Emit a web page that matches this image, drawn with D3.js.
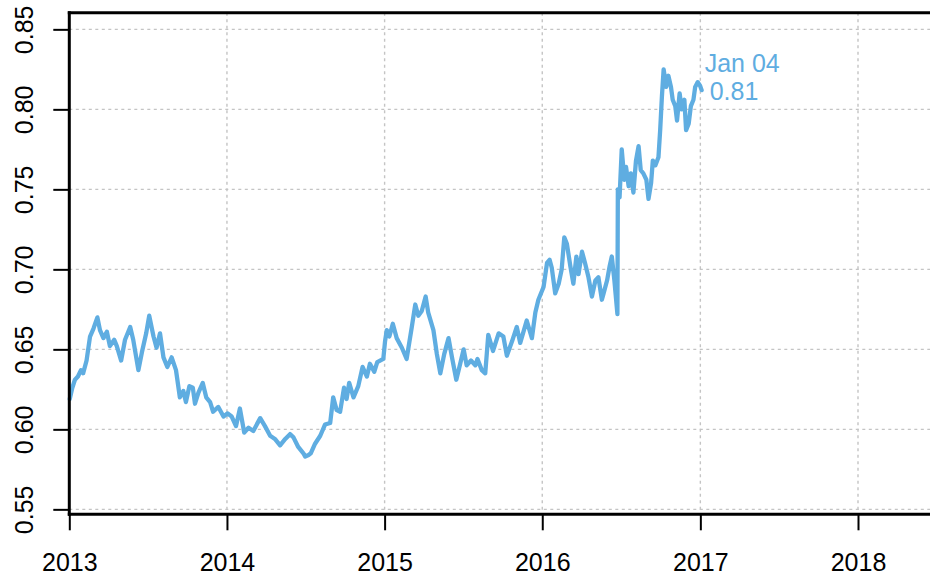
<!DOCTYPE html>
<html>
<head>
<meta charset="utf-8">
<script src="https://cdn.jsdelivr.net/npm/d3@7"></script>
<style>
  html, body { margin: 0; padding: 0; background: #fff; }
  svg { display: block; font-family: "Liberation Sans", Arial, Helvetica, sans-serif; }
</style>
</head>
<body>
<svg id="chart" width="930" height="579"></svg>
<script>
// USD/GBP exchange rate, 2013 through early 2017
const dates = [
  "2013-01-02","2013-01-08","2013-01-14","2013-01-21","2013-01-28","2013-02-02","2013-02-10","2013-02-18",
  "2013-02-26","2013-03-07","2013-03-13","2013-03-21","2013-03-29","2013-04-05","2013-04-15","2013-04-21",
  "2013-05-01","2013-05-10","2013-05-22","2013-05-29","2013-06-10","2013-06-18","2013-06-28","2013-07-05",
  "2013-07-15","2013-07-22","2013-07-30","2013-08-07","2013-08-16","2013-08-26","2013-09-05","2013-09-14",
  "2013-09-22","2013-09-28","2013-10-06","2013-10-14","2013-10-19","2013-10-27","2013-11-06","2013-11-14",
  "2013-11-23","2013-11-30","2013-12-12","2013-12-24","2014-01-02","2014-01-12","2014-01-22","2014-01-31",
  "2014-02-10","2014-02-20","2014-03-03","2014-03-19","2014-03-30","2014-04-11","2014-04-22","2014-05-04",
  "2014-05-16","2014-05-27","2014-06-04","2014-06-15","2014-06-27","2014-07-01","2014-07-09","2014-07-14",
  "2014-07-24","2014-08-05","2014-08-16","2014-08-28","2014-09-04","2014-09-12","2014-09-20","2014-09-29",
  "2014-10-05","2014-10-11","2014-10-21","2014-11-01","2014-11-11","2014-11-21","2014-11-28","2014-12-08",
  "2014-12-15","2014-12-29","2015-01-02","2015-01-06","2015-01-12","2015-01-20","2015-01-29","2015-02-10",
  "2015-02-21","2015-03-05","2015-03-13","2015-03-20","2015-03-28","2015-04-06","2015-04-12","2015-04-24",
  "2015-05-02","2015-05-10","2015-05-19","2015-05-29","2015-06-06","2015-06-16","2015-06-25","2015-07-03",
  "2015-07-10","2015-07-20","2015-07-30","2015-08-04","2015-08-14","2015-08-22","2015-08-29","2015-09-09",
  "2015-09-22","2015-10-03","2015-10-11","2015-10-23","2015-11-03","2015-11-11","2015-11-26","2015-12-08",
  "2015-12-16","2015-12-23","2016-01-04","2016-01-12","2016-01-18","2016-01-23","2016-01-31","2016-02-08",
  "2016-02-15","2016-02-21","2016-02-27","2016-03-06","2016-03-13","2016-03-20","2016-03-25","2016-04-02",
  "2016-04-09","2016-04-17","2016-04-25","2016-05-03","2016-05-10","2016-05-18","2016-05-22","2016-05-30",
  "2016-06-05","2016-06-10","2016-06-16","2016-06-23","2016-06-24","2016-06-28","2016-07-03","2016-07-09",
  "2016-07-13","2016-07-19","2016-07-24","2016-07-30","2016-08-05","2016-08-11","2016-08-16","2016-08-22",
  "2016-08-29","2016-09-03","2016-09-09","2016-09-13","2016-09-19","2016-09-26","2016-09-30","2016-10-04",
  "2016-10-08","2016-10-14","2016-10-19","2016-10-25","2016-10-29","2016-11-04","2016-11-08","2016-11-14",
  "2016-11-19","2016-11-25","2016-11-29","2016-12-05","2016-12-10","2016-12-16","2016-12-20","2016-12-26",
  "2016-12-31","2017-01-04"
];

const rates = [
  0.619,0.626,0.631,0.633,0.637,0.635,0.643,0.658,
  0.663,0.670,0.662,0.657,0.661,0.652,0.656,0.652,
  0.643,0.656,0.664,0.656,0.637,0.648,0.660,0.671,
  0.658,0.651,0.660,0.645,0.639,0.645,0.637,0.620,
  0.624,0.617,0.627,0.626,0.616,0.623,0.629,0.620,
  0.617,0.611,0.614,0.608,0.610,0.608,0.602,0.613,
  0.598,0.601,0.599,0.607,0.602,0.596,0.594,0.590,
  0.594,0.597,0.595,0.589,0.585,0.583,0.584,0.585,
  0.591,0.596,0.603,0.604,0.620,0.612,0.611,0.626,
  0.619,0.629,0.620,0.627,0.639,0.633,0.641,0.636,
  0.642,0.644,0.655,0.662,0.658,0.666,0.657,0.651,
  0.644,0.664,0.678,0.671,0.674,0.683,0.673,0.662,
  0.647,0.635,0.647,0.657,0.645,0.631,0.641,0.650,
  0.640,0.643,0.640,0.644,0.637,0.635,0.659,0.649,
  0.660,0.658,0.646,0.655,0.664,0.654,0.668,0.657,
  0.673,0.681,0.689,0.704,0.706,0.701,0.685,0.691,
  0.700,0.720,0.716,0.702,0.691,0.708,0.697,0.711,
  0.704,0.695,0.683,0.693,0.695,0.681,0.685,0.693,
  0.702,0.708,0.693,0.672,0.750,0.745,0.775,0.756,
  0.764,0.752,0.760,0.748,0.768,0.777,0.762,0.760,
  0.756,0.744,0.754,0.768,0.765,0.770,0.787,0.808,
  0.825,0.814,0.821,0.814,0.806,0.802,0.793,0.810,
  0.800,0.806,0.787,0.791,0.802,0.806,0.814,0.817,
  0.815,0.812
];

const yTicks = [0.55, 0.60, 0.65, 0.70, 0.75, 0.80, 0.85];
const yTickLabels = ["0.55", "0.60", "0.65", "0.70", "0.75", "0.80", "0.85"];
const xTickYears = [2013, 2014, 2015, 2016, 2017, 2018];

const lineColor = "#5fade1";
const gridColor = "#c4c4c4";
const fontFamily = '"Liberation Sans", Arial, sans-serif';

const parse = d3.timeParse("%Y-%m-%d");
const series = dates.map((d, i) => ({ date: parse(d), value: rates[i] }));

const svg = d3.select("#chart");

// Plot frame
const plotLeft = 69.3, plotTop = 12.7, plotBottom = 514.3;
const x = d3.scaleTime()
  .domain([new Date(2013, 0, 1), new Date(2018, 0, 1)])
  .range([plotLeft, 858]);
const plotRight = x(new Date(2018, 6, 1));

const y = d3.scaleLinear()
  .domain([0.5469, 0.8604])
  .range([plotBottom, plotTop]);

const xTicks = xTickYears.map(yr => new Date(yr, 0, 1));

// Grid
const grid = svg.append("g").attr("class", "grid")
  .attr("stroke", gridColor).attr("stroke-width", 1.4).attr("stroke-dasharray", "3,3.5");
grid.selectAll("line.h").data(yTicks).join("line")
  .attr("class", "h")
  .attr("x1", plotLeft).attr("x2", plotRight)
  .attr("y1", d => y(d)).attr("y2", d => y(d));
grid.selectAll("line.v").data(xTicks).join("line")
  .attr("class", "v")
  .attr("x1", d => x(d)).attr("x2", d => x(d))
  .attr("y1", plotTop).attr("y2", plotBottom);

// Series line
const line = d3.line()
  .x(d => x(d.date))
  .y(d => y(d.value))
  .curve(d3.curveLinear);

svg.append("path")
  .datum(series)
  .attr("fill", "none")
  .attr("stroke", lineColor)
  .attr("stroke-width", 4.3)
  .attr("stroke-linejoin", "round")
  .attr("stroke-linecap", "round")
  .attr("d", line);

// Top border
svg.append("line")
  .attr("x1", plotLeft - 1.5).attr("x2", plotRight)
  .attr("y1", plotTop).attr("y2", plotTop)
  .attr("stroke", "#000").attr("stroke-width", 3);

// Y axis
const yAxis = d3.axisLeft(y)
  .tickValues(yTicks)
  .tickFormat((d, i) => yTickLabels[i])
  .tickSizeOuter(0)
  .tickSizeInner(16);

svg.append("g")
  .attr("transform", `translate(${plotLeft},0)`)
  .call(yAxis)
  .call(g => g.select(".domain").attr("stroke-width", 3).attr("d", `M0,${plotTop - 1.5}V${plotBottom + 1.5}`))
  .call(g => g.selectAll(".tick line").attr("stroke-width", 2))
  .call(g => g.selectAll(".tick text")
    .attr("transform", "rotate(-90)")
    .attr("x", 0)
    .attr("y", -36.3)
    .attr("dy", 0)
    .attr("text-anchor", "middle")
    .attr("fill", "#000")
    .style("font-size", "25px")
    .style("font-family", fontFamily));

// X axis
const xAxis = d3.axisBottom(x)
  .tickValues(xTicks)
  .tickFormat(d3.timeFormat("%Y"))
  .tickSizeOuter(0)
  .tickSizeInner(16);

svg.append("g")
  .attr("transform", `translate(0,${plotBottom})`)
  .call(xAxis)
  .call(g => g.select(".domain").attr("stroke-width", 3).attr("d", `M${plotLeft - 1.5},0H${plotRight}`))
  .call(g => g.selectAll(".tick line").attr("stroke-width", 2))
  .call(g => g.selectAll(".tick text")
    .attr("y", 56.7)
    .attr("dy", 0)
    .attr("fill", "#000")
    .style("font-size", "25px")
    .style("font-family", fontFamily));

// Last value annotation
const last = series[series.length - 1];
const ann = svg.append("g")
  .attr("fill", lineColor)
  .style("font-size", "25px")
  .style("font-family", fontFamily);
ann.append("text")
  .attr("x", x(last.date) + 3)
  .attr("y", y(last.value) - 18)
  .text(d3.timeFormat("%b %d")(last.date));
ann.append("text")
  .attr("x", x(last.date) + 8)
  .attr("y", y(last.value) + 10)
  .text(d3.format(".2f")(last.value));
</script>
</body>
</html>
